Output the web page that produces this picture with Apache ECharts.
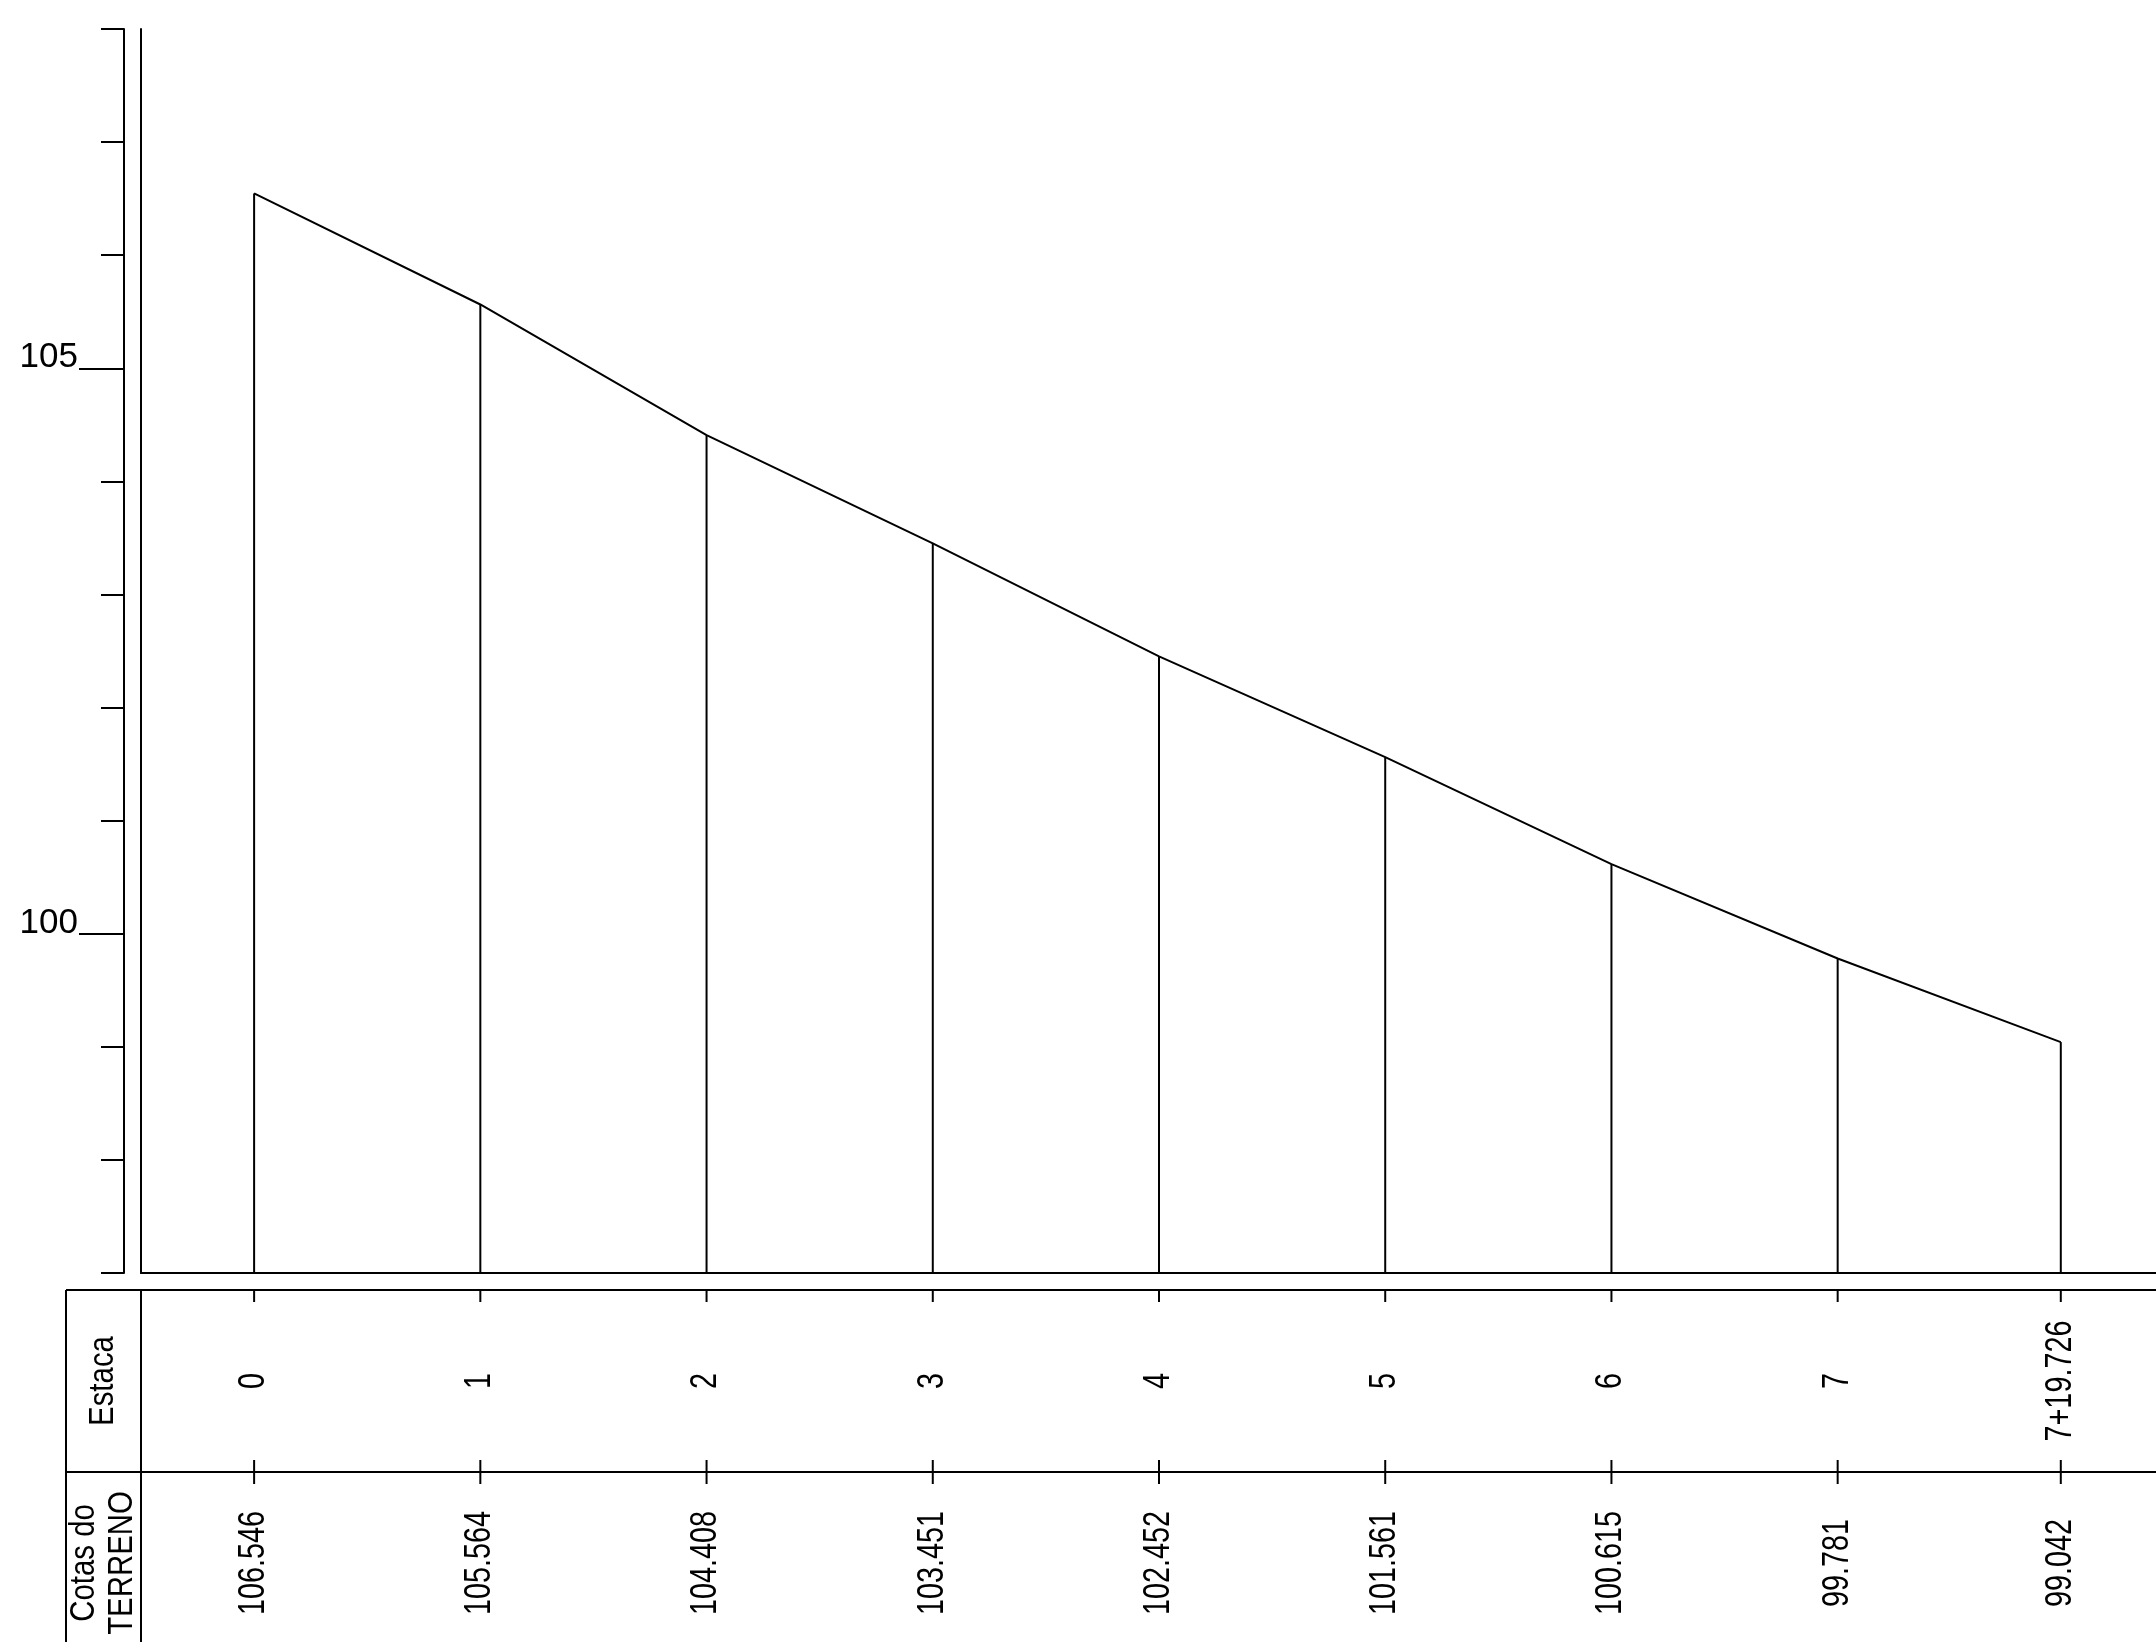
<!DOCTYPE html>
<html>
<head>
<meta charset="utf-8">
<script src="https://cdn.jsdelivr.net/npm/echarts@6/dist/echarts.min.js"></script>
<style>html,body{margin:0;padding:0;background:#fff;}#chart{width:2156px;height:1642px;}</style>
</head>
<body>
<div id="chart"></div>
<script>
// ---- data ----
var stakeLabels = ['0', '1', '2', '3', '4', '5', '6', '7', '7+19.726'];
var distances = [0, 20, 40, 60, 80, 100, 120, 140, 159.726];
var elevations = [106.546, 105.564, 104.408, 103.451, 102.452, 101.561, 100.615, 99.781, 99.042];
var rowHeaders = ['Estaca', 'Cotas do\nTERRENO'];
var yLabelValues = [100, 105];

var FONT = "'Liberation Sans', Arial, sans-serif";
var Y_MIN = 97, Y_MAX = 108, X_MIN = -10, X_MAX = 170;

var chart = echarts.init(document.getElementById('chart'), null, {renderer: 'canvas'});

var option = {
  backgroundColor: '#fff',
  animation: false,
  grid: [
    {left: 141, top: 29, width: 2036, height: 1244, outerBoundsMode: 'none', containLabel: false},
    {left: 141, top: 1290, width: 2036, height: 364, outerBoundsMode: 'none', containLabel: false}
  ],
  xAxis: [
    {gridIndex: 0, type: 'value', min: X_MIN, max: X_MAX,
      axisLine: {show: true, onZero: false, lineStyle: {color: '#000', width: 2}},
      axisTick: {show: false}, axisLabel: {show: false}, splitLine: {show: false}},
    {gridIndex: 1, type: 'value', min: X_MIN, max: X_MAX, show: false}
  ],
  yAxis: [
    {gridIndex: 0, type: 'value', position: 'left', min: Y_MIN, max: Y_MAX, interval: 1, offset: 17,
      axisLine: {show: true, onZero: false, lineStyle: {color: '#000', width: 2}},
      axisTick: {show: true, length: 23, lineStyle: {color: '#000', width: 2}},
      axisLabel: {show: false}, splitLine: {show: false}},
    {gridIndex: 0, type: 'value', position: 'left', min: Y_MIN, max: Y_MAX, offset: 17,
      axisLine: {show: false, onZero: false},
      axisTick: {show: true, length: 45, customValues: yLabelValues, lineStyle: {color: '#000', width: 2}},
      axisLabel: {show: true, customValues: yLabelValues, margin: 46, verticalAlign: 'bottom',
        color: '#000', fontSize: 35, fontFamily: FONT, padding: [0, 0, -7, 0]},
      splitLine: {show: false}},
    {gridIndex: 0, type: 'value', position: 'left', min: Y_MIN, max: Y_MAX, offset: 0,
      axisLine: {show: true, onZero: false, lineStyle: {color: '#000', width: 2}},
      axisTick: {show: false}, axisLabel: {show: false}, splitLine: {show: false}},
    {gridIndex: 1, type: 'value', min: 0, max: 2, inverse: true, show: false}
  ],
  series: [
    {
      type: 'line', xAxisIndex: 0, yAxisIndex: 0,
      data: distances.map(function (d, i) { return [d, elevations[i]]; }),
      symbol: 'none',
      lineStyle: {color: '#000', width: 2}
    },
    {
      type: 'custom', xAxisIndex: 0, yAxisIndex: 0,
      data: distances.map(function (d, i) { return [d, elevations[i]]; }),
      renderItem: function (params, api) {
        var top = api.coord([api.value(0), api.value(1)]);
        var bot = api.coord([api.value(0), Y_MIN]);
        return {type: 'line', shape: {x1: top[0], y1: top[1], x2: bot[0], y2: bot[1]},
          style: {stroke: '#000', lineWidth: 2}};
      }
    },
    {
      // table frame + row headers
      type: 'custom', xAxisIndex: 1, yAxisIndex: 3, clip: false,
      data: rowHeaders.map(function (h, i) { return [X_MIN, i]; }),
      renderItem: function (params, api) {
        var i = api.value(1);
        var left = api.coord([X_MIN, 0])[0];
        var hl = left - 75;
        var yT = api.coord([X_MIN, i])[1];
        var yB = api.coord([X_MIN, i + 1])[1];
        var W = api.getWidth();
        var st = {stroke: '#000', lineWidth: 2};
        return {type: 'group', children: [
          {type: 'line', shape: {x1: hl, y1: yT, x2: W, y2: yT}, style: st},
          {type: 'line', shape: {x1: hl, y1: yB, x2: W, y2: yB}, style: st},
          {type: 'line', shape: {x1: hl, y1: yT, x2: hl, y2: yB}, style: st},
          {type: 'line', shape: {x1: left, y1: yT, x2: left, y2: yB}, style: st},
          {type: 'text', x: (hl + left) / 2, y: (yT + yB) / 2, rotation: Math.PI / 2, scaleX: 0.84,
            style: {text: rowHeaders[i], align: 'center', verticalAlign: 'middle',
              fill: '#000', fontSize: 35, fontFamily: FONT, lineHeight: 38}}
        ]};
      }
    },
    {
      // station cells
      type: 'custom', xAxisIndex: 1, yAxisIndex: 3, clip: false,
      data: distances.map(function (d, i) { return [d, i]; }),
      renderItem: function (params, api) {
        var i = api.value(1);
        var x = api.coord([api.value(0), 0])[0];
        var y0 = api.coord([0, 0])[1], y1 = api.coord([0, 1])[1], y2 = api.coord([0, 2])[1];
        var st = {stroke: '#000', lineWidth: 2};
        var tf = {fill: '#000', fontSize: 36, fontFamily: FONT, align: 'center', verticalAlign: 'middle'};
        return {type: 'group', children: [
          {type: 'line', shape: {x1: x, y1: y0, x2: x, y2: y0 + 12}, style: st},
          {type: 'line', shape: {x1: x, y1: y1 - 12, x2: x, y2: y1 + 12}, style: st},
          {type: 'line', shape: {x1: x, y1: y2 - 12, x2: x, y2: y2}, style: st},
          {type: 'text', x: x, y: (y0 + y1) / 2, rotation: Math.PI / 2, scaleX: 0.8,
            style: Object.assign({text: stakeLabels[i]}, tf)},
          {type: 'text', x: x, y: (y1 + y2) / 2, rotation: Math.PI / 2, scaleX: 0.8,
            style: Object.assign({text: elevations[i].toFixed(3)}, tf)}
        ]};
      }
    }
  ]
};
chart.setOption(option);
</script>
</body>
</html>
